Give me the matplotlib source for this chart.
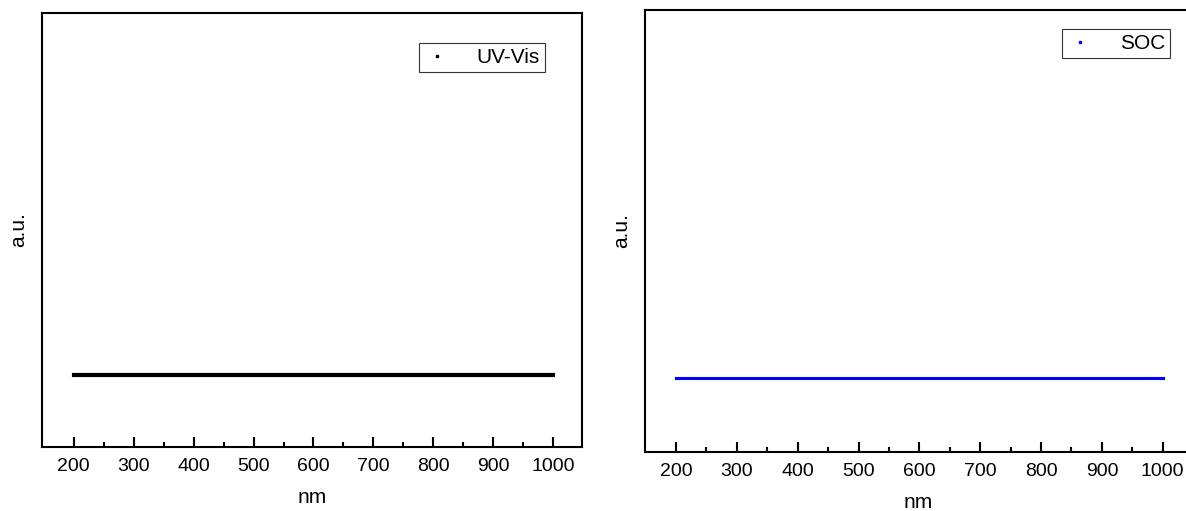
import matplotlib.pyplot as plt
from matplotlib.lines import Line2D
from matplotlib.ticker import FixedLocator

plt.rcParams['font.family'] = ['Liberation Sans', 'DejaVu Sans']

# data
wavelength = [200, 1000]
uvvis = [0, 0]
soc = [0, 0]
xticks = [200, 300, 400, 500, 600, 700, 800, 900, 1000]
minor_ticks = [250, 350, 450, 550, 650, 750, 850, 950]

fig = plt.figure(figsize=(11.86, 5.11), dpi=100)
ax1 = fig.add_axes([0.0354, 0.1252, 0.4553, 0.8493])
ax2 = fig.add_axes([0.5438, 0.1155, 0.4612, 0.865])

panels = [
    (ax1, uvvis, 'black', 3.0, 'UV-Vis', (0.931, 0.931), (147, 1048)),
    (ax2, soc, 'blue', 2.2, 'SOC', (0.960, 0.957), (149, 1048)),
]

for ax, y, color, lw, name, anchor, xlim in panels:
    ax.plot(wavelength, y, color=color, lw=lw)
    ax.set_xlim(*xlim)
    ax.set_ylim(-0.2, 1)
    ax.set_xticks(xticks)
    ax.xaxis.set_minor_locator(FixedLocator(minor_ticks))
    ax.set_yticks([])
    ax.tick_params(axis='x', which='major', direction='in', length=7, width=1.5,
                   labelsize=14, pad=8)
    ax.tick_params(axis='x', which='minor', direction='in', length=3.5, width=1.5)
    for s in ax.spines.values():
        s.set_linewidth(1.5)
    ax.set_xlabel('nm', fontsize=15, labelpad=9)
    ax.set_ylabel('a.u.', fontsize=15, labelpad=10)
    handle = Line2D([], [], color=color, marker='s', markersize=1.5, linestyle='none')
    leg = ax.legend([handle], [name], loc='upper right', bbox_to_anchor=anchor,
                    fancybox=False, framealpha=1, edgecolor='#333333', fontsize=15,
                    borderpad=0.25, handlelength=1.2, handletextpad=1.3,
                    borderaxespad=0)
    leg.get_frame().set_linewidth(0.8)

# right panel is cut off at the image edge
ax2.spines['right'].set_visible(False)

fig.savefig('out.png', dpi=100)
